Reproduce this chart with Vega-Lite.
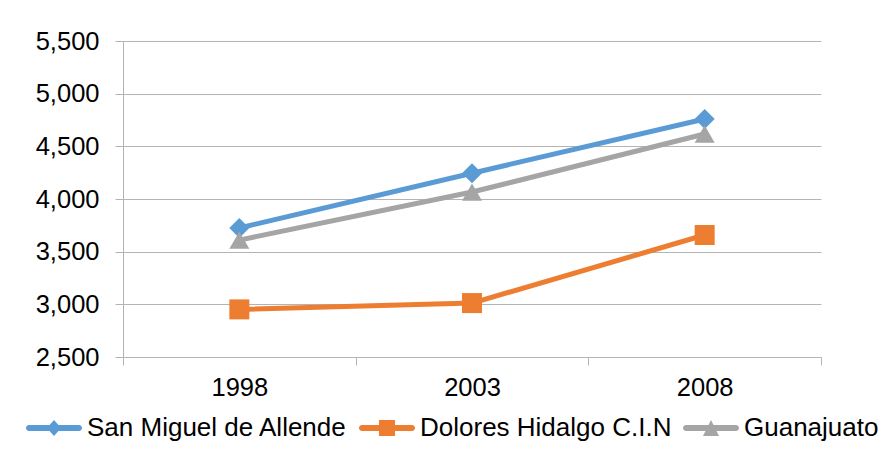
{
  "$schema": "https://vega.github.io/schema/vega-lite/v6.json",
  "width": 698,
  "height": 316,
  "autosize": {"type": "none"},
  "padding": {"left": 123, "top": 41, "right": 63, "bottom": 113},
  "background": "white",
  "config": {
    "font": "Liberation Sans",
    "view": {"stroke": null}
  },
  "data": {
    "values": [
      {"year": "1998", "series": "San Miguel de Allende", "value": 3725},
      {"year": "2003", "series": "San Miguel de Allende", "value": 4245},
      {"year": "2008", "series": "San Miguel de Allende", "value": 4760},
      {"year": "1998", "series": "Dolores Hidalgo C.I.N", "value": 2952},
      {"year": "2003", "series": "Dolores Hidalgo C.I.N", "value": 3012},
      {"year": "2008", "series": "Dolores Hidalgo C.I.N", "value": 3658},
      {"year": "1998", "series": "Guanajuato", "value": 3610},
      {"year": "2003", "series": "Guanajuato", "value": 4066},
      {"year": "2008", "series": "Guanajuato", "value": 4617}
    ]
  },
  "encoding": {
    "x": {
      "field": "year",
      "type": "ordinal",
      "bandPosition": 0.5,
      "scale": {"type": "band", "paddingInner": 0, "paddingOuter": 0},
      "axis": {
        "title": null,
        "labelAngle": 0,
        "labelFontSize": 25.5,
        "labelColor": "#000000",
        "labelPadding": 10,
        "tickBand": "extent",
        "tickSize": 8,
        "tickColor": "#b4b4b4",
        "domainColor": "#b4b4b4",
        "grid": false
      }
    },
    "y": {
      "field": "value",
      "type": "quantitative",
      "scale": {"domain": [2500, 5500], "nice": false, "zero": false},
      "axis": {
        "title": null,
        "values": [2500, 3000, 3500, 4000, 4500, 5000, 5500],
        "format": ",.0f",
        "labelFontSize": 25.5,
        "labelColor": "#000000",
        "labelPadding": 16,
        "tickSize": 8,
        "tickColor": "#b4b4b4",
        "domainColor": "#b4b4b4",
        "gridColor": "#b4b4b4",
        "grid": true
      }
    },
    "color": {
      "field": "series",
      "type": "nominal",
      "scale": {
        "domain": ["San Miguel de Allende", "Dolores Hidalgo C.I.N", "Guanajuato"],
        "range": ["#5B9BD5", "#ED7D31", "#A5A5A5"]
      },
      "legend": {
        "orient": "none",
        "legendX": -97,
        "legendY": 359,
        "direction": "horizontal",
        "title": null,
        "padding": 0,
        "labelFontSize": 26,
        "labelColor": "#000000",
        "labelLimit": 500,
        "labelOffset": 5,
        "columnPadding": 11,
        "symbolSize": 3136,
        "symbolStrokeWidth": 0,
        "symbolOpacity": 1,
        "encode": {
          "symbols": {
            "update": {
              "shape": {"signal": "datum.value === 'San Miguel de Allende' ? 'M-0.893,-0.107H-0.158L0,-0.29L0.158,-0.107H0.893A0.107,0.107 0 0 1 0.893,0.107H0.158L0,0.29L-0.158,0.107H-0.893A0.107,0.107 0 0 1 -0.893,-0.107Z' : datum.value === 'Dolores Hidalgo C.I.N' ? 'M-0.893,-0.107H-0.286V-0.286H0.286V-0.107H0.893A0.107,0.107 0 0 1 0.893,0.107H0.286V0.286H-0.286V0.107H-0.893A0.107,0.107 0 0 1 -0.893,-0.107Z' : 'M-0.893,-0.107H-0.09L0,-0.286L0.09,-0.107H0.893A0.107,0.107 0 0 1 0.893,0.107H0.196L0.286,0.286H-0.286L-0.196,0.107H-0.893A0.107,0.107 0 0 1 -0.893,-0.107Z'"},
              "fill": {"signal": "scale('color', datum.value)"},
              "stroke": {"value": "transparent"},
              "strokeWidth": {"value": 0},
              "opacity": {"value": 1}
            }
          }
        }
      }
    }
  },
  "layer": [
    {
      "mark": {"type": "line", "strokeWidth": 5, "strokeJoin": "round", "strokeCap": "round"},
      "encoding": {}
    },
    {
      "transform": [{"filter": "datum.series === 'San Miguel de Allende'"}],
      "mark": {"type": "point", "shape": "diamond", "filled": true, "opacity": 1, "size": 400, "strokeWidth": 0},
      "encoding": {}
    },
    {
      "transform": [{"filter": "datum.series === 'Dolores Hidalgo C.I.N'"}],
      "mark": {"type": "point", "shape": "square", "filled": true, "opacity": 1, "size": 400, "strokeWidth": 0},
      "encoding": {}
    },
    {
      "transform": [{"filter": "datum.series === 'Guanajuato'"}],
      "mark": {"type": "point", "shape": "triangle-up", "filled": true, "opacity": 1, "size": 400, "strokeWidth": 0},
      "encoding": {}
    }
  ]
}
